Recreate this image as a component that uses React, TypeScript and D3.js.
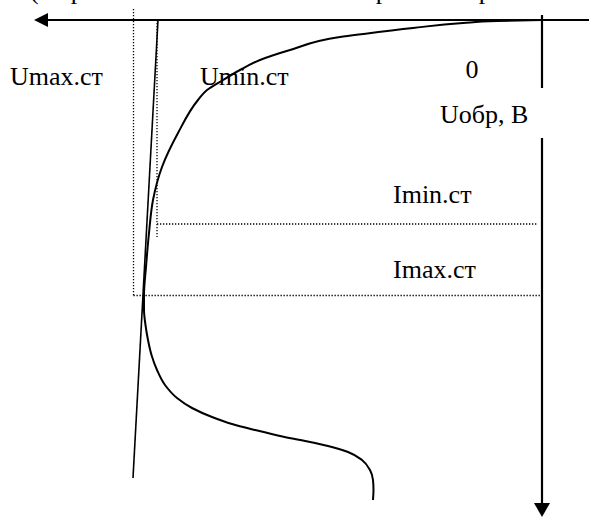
import React from "react";
import * as d3 from "d3";

// Reverse branch of a Zener diode I–V characteristic.
// Voltage U (V) grows to the left of the origin, current I (mA) grows downward.
const W = 589;
const H = 517;

// Characteristic curve (I rises monotonically along the curve)
const curveU = [0, 0.9, 1.58, 2.58, 3.58, 4.04, 5.04, 5.64, 6.04, 6.38, 6.7, 6.88, 7.28, 7.6, 7.78, 7.86, 7.92, 7.96, 7.96, 7.93, 7.88, 7.81, 7.7, 7.54, 7.3, 7.0, 6.6, 6.2, 5.74, 5.24, 4.74, 4.28, 3.88, 3.6, 3.44, 3.38, 3.37, 3.38];
const curveI = [0, 0.1, 0.3, 0.8, 1.4, 1.7, 3.0, 4.0, 5.0, 6.0, 7.0, 8.0, 11.3, 14.7, 18.0, 21.3, 24.7, 27.5, 29.0, 30.5, 32.0, 33.5, 35.0, 36.5, 37.8, 38.8, 39.7, 40.4, 41.0, 41.6, 42.1, 42.6, 43.2, 44.0, 45.0, 46.0, 47.0, 48.0];

// Straight approximation of the breakdown region
const tangentU = [7.68, 8.18];
const tangentI = [0, 45.8];

// Stabilisation limits
const uMinSt = 7.7;
const uMaxSt = 8.17;
const iMinSt = 20.4;
const iMaxSt = 27.55;

const titleText = "(Обратная ветвь ВАХ стабилитрона в обратном направлении)";
const labels = {
  uMax: "Umax.ст",
  uMin: "Umin.ст",
  zero: "0",
  uAxis: "Uобр, В",
  iMin: "Imin.ст",
  iMax: "Imax.ст",
};

export default function App() {
  const x = d3.scaleLinear().domain([0, 10]).range([542, 42]);
  const y = d3.scaleLinear().domain([0, 50]).range([20, 520]);

  const pts: [number, number][] = curveU.map((u, i) => [u, curveI[i]]);
  const line = d3
    .line<[number, number]>()
    .x((d) => x(d[0]))
    .y((d) => y(d[1]))
    .curve(d3.curveMonotoneY);

  const tangent = d3
    .line<number>()
    .x((_, i) => x(tangentU[i]))
    .y((_, i) => y(tangentI[i]));

  const x0 = x(0);
  const y0 = y(0);
  const font = "'Liberation Serif', 'Times New Roman', serif";
  const dot = { stroke: "#000", strokeWidth: 1.3, strokeDasharray: "1.3 1.7", fill: "none" };

  return (
    <svg
      width={W}
      height={H}
      style={{ position: "absolute", left: 0, top: 0, background: "#fff" }}
      fontFamily={font}
      fontSize={26}
    >
      <rect width={W} height={H} fill="#fff" />
      <text x={30} y={-1} fontSize={26}>
        {titleText}
      </text>

      {/* stabilisation limit guides */}
      <line x1={x(uMaxSt)} x2={x(uMaxSt)} y1={9} y2={y(iMaxSt)} {...dot} />
      <line x1={x(uMinSt)} x2={x(uMinSt)} y1={y0} y2={y(iMinSt) + 13} {...dot} />
      <line x1={x(uMinSt)} x2={x(0.08)} y1={y(iMinSt)} y2={y(iMinSt)} {...dot} />
      <line x1={x(uMaxSt)} x2={x(0.04)} y1={y(iMaxSt)} y2={y(iMaxSt)} {...dot} />

      {/* U axis (pointing left) */}
      <line x1={47} x2={W} y1={y0} y2={y0} stroke="#000" strokeWidth={2.2} />
      <path d={`M34,${y0} L48,${y0 - 7} L48,${y0 + 7} Z`} fill="#000" />

      {/* I axis (pointing down), broken around its labels */}
      <line x1={x0} x2={x0} y1={15} y2={88} stroke="#000" strokeWidth={2.2} />
      <line x1={x0} x2={x0} y1={138} y2={505} stroke="#000" strokeWidth={2.2} />
      <path d={`M${x0},517 L${x0 - 8},503 L${x0 + 8},503 Z`} fill="#000" />

      {/* tangent line and characteristic */}
      <path d={tangent(tangentU) || ""} fill="none" stroke="#000" strokeWidth={1.6} />
      <path d={line(pts) || ""} fill="none" stroke="#000" strokeWidth={2} />

      <text x={10} y={85}>{labels.uMax}</text>
      <text x={200} y={85}>{labels.uMin}</text>
      <text x={472} y={78} textAnchor="middle">{labels.zero}</text>
      <text x={440} y={123}>{labels.uAxis}</text>
      <text x={393} y={y(iMinSt) - 21}>{labels.iMin}</text>
      <text x={393} y={y(iMaxSt) - 18}>{labels.iMax}</text>
    </svg>
  );
}
